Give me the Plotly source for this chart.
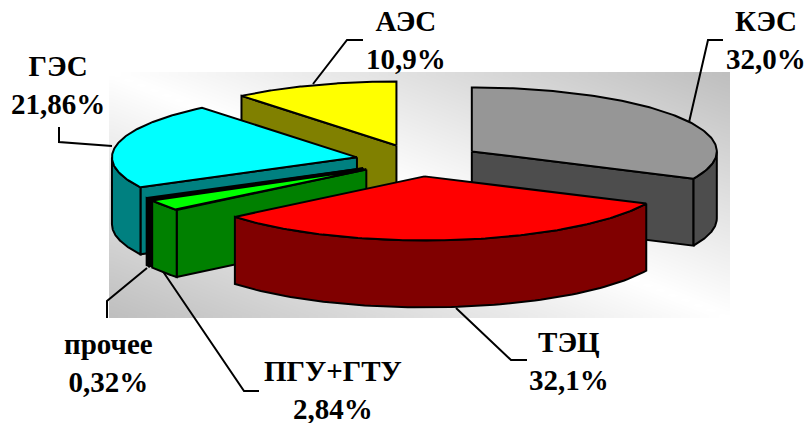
import math
import numpy as np
import plotly.graph_objects as go

# --- data -------------------------------------------------------------
categories = ["КЭС", "ТЭЦ", "ПГУ+ГТУ", "прочее", "ГЭС", "АЭС"]
values = [32.0, 32.1, 2.84, 0.32, 21.86, 10.9]
value_labels = ["32,0%", "32,1%", "2,84%", "0,32%", "21,86%", "10,9%"]

# --- styles -----------------------------------------------------------
top_colors = ["#969696", "#FF0000", "#00FF00", "#000000", "#00FFFF", "#FFFF00"]
side_colors = ["#4D4D4D", "#800000", "#008000", "#000000", "#008080", "#808000"]
draw_order = [5, 0, 4, 3, 2, 1]
FONT = "Liberation Serif"
W, H = 808, 423
CX, CY, RX, RY, DEPTH = 417.0, 160.5, 245.0, 64.0, 67.0
explode = [0.265, 0.25, 0.25, 0.25, 0.25, 0.25]
LW = 2
label_pos = [(766, 40), (569, 361), (333, 390), (108, 363), (58, 85), (406, 40)]
leaders = [
    [(678, 170), (708, 40), (723, 40)],
    [(456, 308), (511, 360), (527, 360)],
    [(162, 270), (244, 391), (259, 391)],
    [(147, 268), (107, 301), (107, 318)],
    [(112, 146), (59, 142), (59, 127)],
    [(313, 84), (347, 40), (363, 40)],
]
BG = (109, 730, 72, 318)

fig = go.Figure()

# background panel: diagonal grey-white-grey gradient
NX, NY = 124, 49
dx = (BG[1] - BG[0]) / NX
dy = (BG[3] - BG[2]) / NY
gx = BG[0] + dx * (np.arange(NX) + 0.5)
gy = BG[2] + dy * (np.arange(NY) + 0.5)
u = (gx - BG[0]) / (BG[1] - BG[0])
v = (BG[3] - gy) / (BG[3] - BG[2])
gz = np.abs(u[None, :] + v[:, None] - 1.0)
fig.add_trace(go.Heatmap(x=gx, y=gy, z=gz, zmin=0, zmax=1, zsmooth="best", showscale=False,
                         colorscale=[[0, "#FFFFFF"], [1, "#BEBEBE"]], hoverinfo="skip"))


def poly(xs, ys, fill):
    fig.add_trace(go.Scatter(x=xs, y=ys, mode="lines", fill="toself", fillcolor=fill,
                             line=dict(color="black", width=LW), hoverinfo="skip",
                             showlegend=False))


def pt(cx, cy, deg, dz=0.0):
    r = math.radians(deg)
    return cx + RX * math.sin(r), cy - RY * math.cos(r) + dz


for seg in leaders:
    fig.add_trace(go.Scatter(x=[p[0] for p in seg], y=[p[1] for p in seg], mode="lines",
                             line=dict(color="black", width=LW), hoverinfo="skip",
                             showlegend=False))

total = sum(values)
starts = []
acc = 0.0
for val in values:
    starts.append(acc / total * 360)
    acc += val

for i in draw_order:
    a0 = starts[i]
    a1 = a0 + values[i] / total * 360
    mid = math.radians((a0 + a1) / 2)
    cx = CX + explode[i] * RX * math.sin(mid)
    cy = CY - explode[i] * RY * math.cos(mid)
    # flat side faces
    for ang, show in ((a0, 180 < a0 < 360), (a1, 0 < a1 < 180)):
        if show:
            ex, ey = pt(cx, cy, ang)
            poly([cx, ex, ex, cx, cx], [cy, ey, ey + DEPTH, cy + DEPTH, cy], side_colors[i])
    # outer wall
    w0, w1 = max(a0, 90), min(a1, 270)
    if w1 > w0:
        ang = np.linspace(w0, w1, 80)
        up = [pt(cx, cy, d) for d in ang]
        dn = [pt(cx, cy, d, DEPTH) for d in ang[::-1]]
        loop = up + dn + up[:1]
        poly([p[0] for p in loop], [p[1] for p in loop], side_colors[i])
    # top face
    ang = np.linspace(a0, a1, 120)
    rim = [pt(cx, cy, d) for d in ang]
    loop = [(cx, cy)] + rim + [(cx, cy)]
    poly([p[0] for p in loop], [p[1] for p in loop], top_colors[i])

annotations = [
    dict(x=label_pos[i][0], y=label_pos[i][1], xref="x", yref="y", showarrow=False,
         xanchor="center", yanchor="middle", align="center",
         text=f"<b>{categories[i]}<br>{value_labels[i]}</b>",
         font=dict(family=FONT, size=29, color="black"))
    for i in range(len(categories))
]

fig.update_layout(
    width=W, height=H, margin=dict(l=0, r=0, t=0, b=0),
    paper_bgcolor="white", plot_bgcolor="white", showlegend=False,
    xaxis=dict(range=[0, W], visible=False, fixedrange=True),
    yaxis=dict(range=[H, 0], visible=False, fixedrange=True),
    annotations=annotations,
)
fig.write_html("out.html", config={"displayModeBar": False},
               post_script="document.body.style.margin='0';document.body.style.overflow='hidden';")
